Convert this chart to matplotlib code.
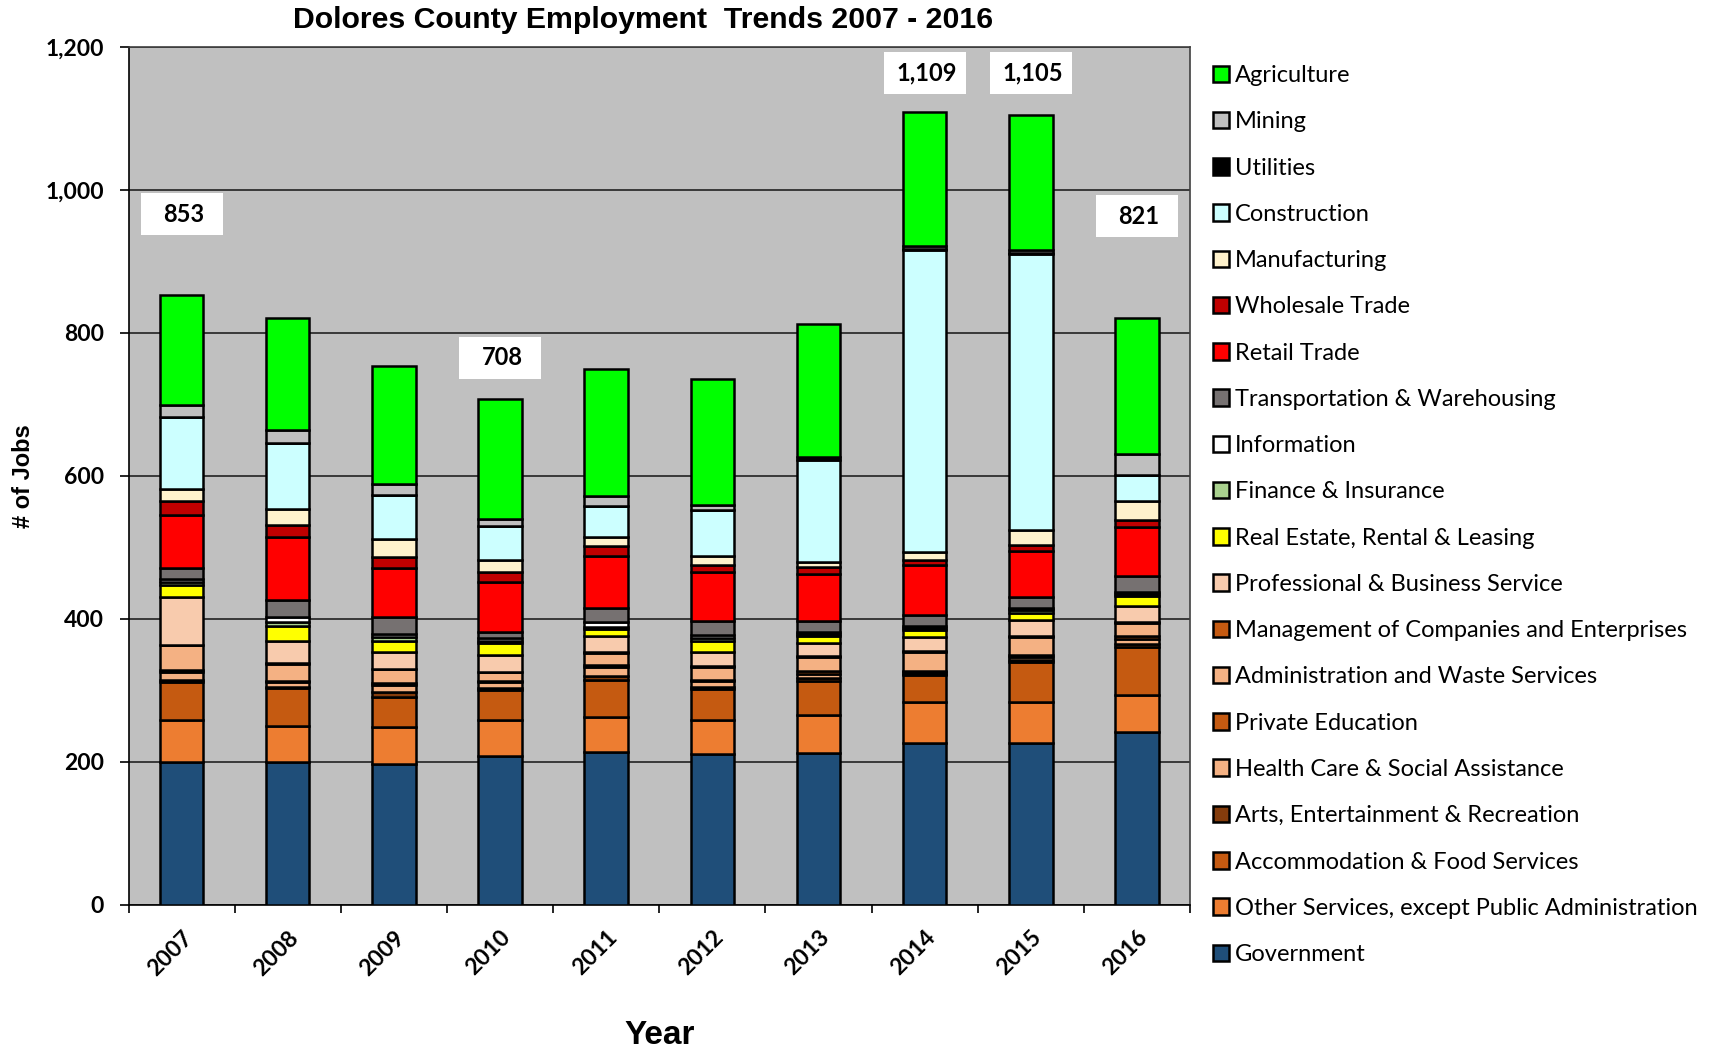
import matplotlib
matplotlib.use("Agg")
import matplotlib.pyplot as plt
from matplotlib.patches import Rectangle
import numpy as np

years = ["2007", "2008", "2009", "2010", "2011", "2012", "2013", "2014", "2015", "2016"]

# stacked from bottom to top
government      = [200, 200, 197, 208, 213, 211, 212, 226, 226, 242]
other_services  = [59, 50, 51, 51, 49, 48, 53, 57, 58, 52]
accommodation   = [53, 53, 43, 41, 53, 43, 48, 38, 56, 66]
arts            = [2, 2, 6, 3, 5, 3, 4, 2, 3, 5]
health_care     = [12, 6, 10, 8, 13, 8, 6, 2, 4, 6]
private_edu     = [3, 2, 3, 2, 2, 2, 4, 2, 3, 5]
admin_waste     = [34, 24, 20, 12, 17, 18, 20, 27, 24, 18]
management      = [1, 1, 0, 1, 2, 1, 1, 1, 2, 2]
professional    = [66, 31, 24, 23, 22, 20, 18, 20, 22, 22]
real_estate     = [17, 21, 15, 17, 9, 15, 10, 9, 10, 14]
finance         = [4, 6, 6, 3, 4, 4, 3, 3, 4, 3]
information     = [4, 7, 3, 4, 6, 4, 3, 3, 3, 2]
transportation  = [16, 23, 24, 9, 20, 20, 15, 15, 15, 23]
retail          = [74, 88, 69, 69, 73, 68, 66, 70, 65, 69]
wholesale       = [20, 17, 16, 14, 14, 10, 9, 7, 8, 9]
manufacturing   = [16, 23, 25, 17, 12, 13, 8, 12, 21, 27]
construction    = [101, 92, 61, 48, 44, 64, 142, 422, 387, 36]
utilities       = [0, 0, 0, 0, 0, 0, 4, 2, 1, 0]
mining          = [17, 18, 16, 10, 14, 7, 1, 4, 4, 30]
agriculture     = [154, 157, 164, 168, 178, 176, 185, 187, 189, 190]

series_names = [
    "Government", "Other Services, except Public Administration",
    "Accommodation & Food Services", "Arts, Entertainment & Recreation",
    "Health Care & Social Assistance", "Private Education",
    "Administration and Waste Services", "Management of Companies and Enterprises",
    "Professional & Business Service", "Real Estate, Rental & Leasing",
    "Finance & Insurance", "Information", "Transportation & Warehousing",
    "Retail Trade", "Wholesale Trade", "Manufacturing", "Construction",
    "Utilities", "Mining", "Agriculture",
]
series_values = [
    government, other_services, accommodation, arts, health_care, private_edu,
    admin_waste, management, professional, real_estate, finance, information,
    transportation, retail, wholesale, manufacturing, construction, utilities,
    mining, agriculture,
]
series_colors = [
    "#1F4E79", "#ED7D31", "#C55A11", "#843C0C", "#F4B183", "#C55A11",
    "#F4B183", "#C55A11", "#F8CBAD", "#FFFF00", "#A9D18E", "#FFFFFF",
    "#767171", "#FF0000", "#C00000", "#FFF2CC", "#CCFFFF", "#000000",
    "#BFBFBF", "#00FF00",
]

# labelled totals
label_years = ["2007", "2010", "2014", "2015", "2016"]
label_texts = ["853", "708", "1,109", "1,105", "821"]
label_y = [966, 765, 1164, 1164, 963]

fig = plt.figure(figsize=(17.09, 10.49), dpi=100)
ax = fig.add_axes([0.0752, 0.1376, 0.6211, 0.8176])
ax.set_facecolor("#C0C0C0")

x = np.arange(len(years))
bottom = np.zeros(len(years))
handles = []
for name, vals, col in zip(series_names, series_values, series_colors):
    vals = np.array(vals, dtype=float)
    h = ax.bar(x, vals, width=0.41, bottom=bottom, color=col,
               edgecolor="black", linewidth=1.8, label=name, zorder=3)
    handles.append(h)
    bottom += vals

ax.set_ylim(0, 1200)
ax.set_xlim(-0.5, len(years) - 0.5)
ax.set_yticks(np.arange(0, 1201, 200))
ax.set_yticklabels([f"{v:,}" for v in range(0, 1201, 200)],
                   fontsize=16.5, fontweight="bold", family="Lato")
ax.set_xticks(x)
ax.set_xticklabels(years, rotation=45, fontsize=16.5, fontweight="bold",
                   family="Lato", ha="right", rotation_mode="anchor")
ax.set_xticks(np.arange(-0.5, len(years), 1), minor=True)
ax.tick_params(axis="x", which="major", length=0, pad=16)
ax.tick_params(axis="x", which="minor", length=6, width=1.2, color="black")
ax.tick_params(axis="y", length=6.5, width=1.2, color="black", pad=11)
ax.yaxis.grid(True, color="#222222", linewidth=1.2, zorder=1)
ax.set_axisbelow(True)
for side in ["top", "right"]:
    ax.spines[side].set_color("#404040")
    ax.spines[side].set_linewidth(1.2)
for side in ["left", "bottom"]:
    ax.spines[side].set_color("black")
    ax.spines[side].set_linewidth(1.2)

ax.set_ylabel("# of Jobs", fontsize=17, fontweight="bold", family="Liberation Sans")
ax.yaxis.set_label_coords(-0.0986, 0.5)
ax.yaxis.label.set_va("center")
ax.set_xlabel("Year", fontsize=24, fontweight="bold", family="Liberation Sans")
ax.xaxis.set_label_coords(0.5, -0.152)
ax.xaxis.label.set_va("center")
fig.text(0.3763, 0.981, "Dolores County Employment  Trends 2007 - 2016",
         fontsize=21.8, fontweight="bold", family="Liberation Sans",
         ha="center", va="center")

# white label boxes of fixed size (about 82 x 42 px)
box_w = 82 / (ax.get_position().width * fig.get_figwidth() * fig.dpi) * len(years)
box_h = 42 / (ax.get_position().height * fig.get_figheight() * fig.dpi) * 1200
for yr, txt, yy in zip(label_years, label_texts, label_y):
    xi = years.index(yr)
    ax.add_patch(Rectangle((xi - box_w / 2, yy - box_h / 2), box_w, box_h,
                           facecolor="white", edgecolor="none", zorder=4))
    ax.text(xi + 0.02, yy, txt, ha="center", va="center", fontsize=17,
            fontweight="bold", family="Lato", zorder=5)

leg = fig.legend(handles[::-1], series_names[::-1], loc="upper left",
                 bbox_to_anchor=(0.7096, 0.938), frameon=False,
                 prop={"family": "Lato", "size": 17},
                 handlelength=0.7, handleheight=0.7, handletextpad=0.25,
                 labelspacing=1.07, borderaxespad=0, borderpad=0)
for p in leg.get_patches():
    p.set_linewidth(1.8)

fig.savefig("out.png", dpi=100, facecolor="white")
